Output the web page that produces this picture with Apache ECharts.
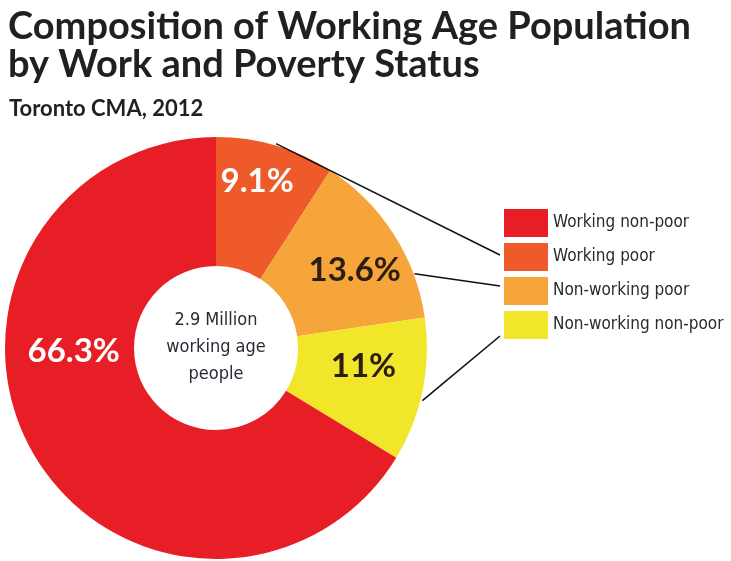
<!DOCTYPE html>
<html>
<head>
<meta charset="utf-8">
<script src="https://cdn.jsdelivr.net/npm/echarts@6/dist/echarts.min.js"></script>
<style>
html,body{margin:0;padding:0;background:#fff;}
#c{width:731px;height:561px;}
</style>
</head>
<body>
<div id="c"></div>
<script>
// ---- data ----
const categories = ['Working poor', 'Non-working poor', 'Non-working non-poor', 'Working non-poor'];
const values = [9.1, 13.6, 11, 66.3];
const legendOrder = ['Working non-poor', 'Working poor', 'Non-working poor', 'Non-working non-poor'];
const titleLines = ['Composition of Working Age Population', 'by Work and Poverty Status'];
const subtitle = 'Toronto CMA, 2012';
const centerText = ['2.9 Million', 'working age', 'people'];

// ---- style ----
const colors = {
  'Working non-poor': '#E81E26',
  'Working poor': '#EE5A29',
  'Non-working poor': '#F6A53A',
  'Non-working non-poor': '#F1E62A'
};
const labelColors = {
  'Working non-poor': '#ffffff',
  'Working poor': '#ffffff',
  'Non-working poor': '#2b1d12',
  'Non-working non-poor': '#2b1d12'
};
const labelShift = {
  'Working non-poor': [-12, -70],
  'Working poor': [-1, -23],
  'Non-working poor': [13, 3],
  'Non-working non-poor': [1, -11]
};
const CX = 216, CY = 348, R0 = 82, R1 = 211;
const LEG_LEFT = 499, LEG_TOP = 204, LEG_H = 28, LEG_GAP = 6;

// leader lines: slice -> [fraction within slice, radius, y offset on legend box]
const leaders = [
  ['Working poor', 0.5, 213, 17],
  ['Non-working poor', 0.75, 212, 14],
  ['Non-working non-poor', 0.57, 213, 30]
];

const total = values.reduce((a, b) => a + b, 0);
const cum = [];
values.reduce((a, v, i) => { cum[i] = a; return a + v; }, 0);

const graphics = [];
leaders.forEach(([name, frac, r, yo]) => {
  const i = categories.indexOf(name);
  const ang = (cum[i] + values[i] * frac) / total * 2 * Math.PI;
  const x1 = CX + r * Math.sin(ang), y1 = CY - r * Math.cos(ang);
  const row = legendOrder.indexOf(name);
  const x2 = LEG_LEFT + 1, y2 = LEG_TOP + row * (LEG_H + LEG_GAP) + yo;
  graphics.push({
    type: 'line', z: 10,
    shape: { x1, y1, x2, y2 },
    style: { stroke: '#111', lineWidth: 1.6 }
  });
});
graphics.push({
  type: 'text', z: 10,
  x: CX, y: CY - 1,
  style: {
    text: centerText.join('\n'),
    align: 'center', verticalAlign: 'middle',
    fontFamily: '"DejaVu Sans Condensed", "Liberation Sans Narrow", sans-serif',
    fontSize: 18, lineHeight: 27, fill: '#2a2a35'
  }
});

const chart = echarts.init(document.getElementById('c'), null, { renderer: 'canvas' });
chart.setOption({
  backgroundColor: '#ffffff',
  animation: false,
  title: [
    {
      text: titleLines.join('\n'),
      left: 3, top: 3,
      textStyle: { fontFamily: 'Lato, sans-serif', fontWeight: 'bold', fontSize: 38, lineHeight: 38, color: '#231f20' }
    },
    {
      text: subtitle,
      left: 4, top: 93,
      textStyle: { fontFamily: 'Lato, sans-serif', fontWeight: 'bold', fontSize: 22, color: '#231f20' }
    }
  ],
  legend: {
    orient: 'vertical',
    left: LEG_LEFT, top: LEG_TOP,
    itemWidth: 44, itemHeight: LEG_H, itemGap: LEG_GAP,
    icon: 'rect',
    data: legendOrder,
    selectedMode: false,
    textStyle: {
      fontFamily: '"DejaVu Sans Condensed", "Liberation Sans Narrow", sans-serif',
      fontSize: 17, color: '#2a2a2a', padding: [0, 0, 0, 0]
    }
  },
  series: [{
    type: 'pie',
    center: [CX, CY],
    radius: [R0, R1],
    startAngle: 90,
    clockwise: true,
    silent: true,
    data: categories.map((n, i) => ({
      name: n, value: values[i],
      itemStyle: { color: colors[n] },
      label: { color: labelColors[n] }
    })),
    label: {
      show: true,
      position: 'inside',
      formatter: '{c}%',
      fontFamily: 'Lato, sans-serif',
      fontWeight: 'bold',
      fontSize: 33
    },
    labelLine: { show: false },
    labelLayout: function (p) {
      const s = labelShift[categories[p.dataIndex]];
      return { dx: s[0], dy: s[1] };
    }
  }],
  graphic: graphics
});
</script>
</body>
</html>
